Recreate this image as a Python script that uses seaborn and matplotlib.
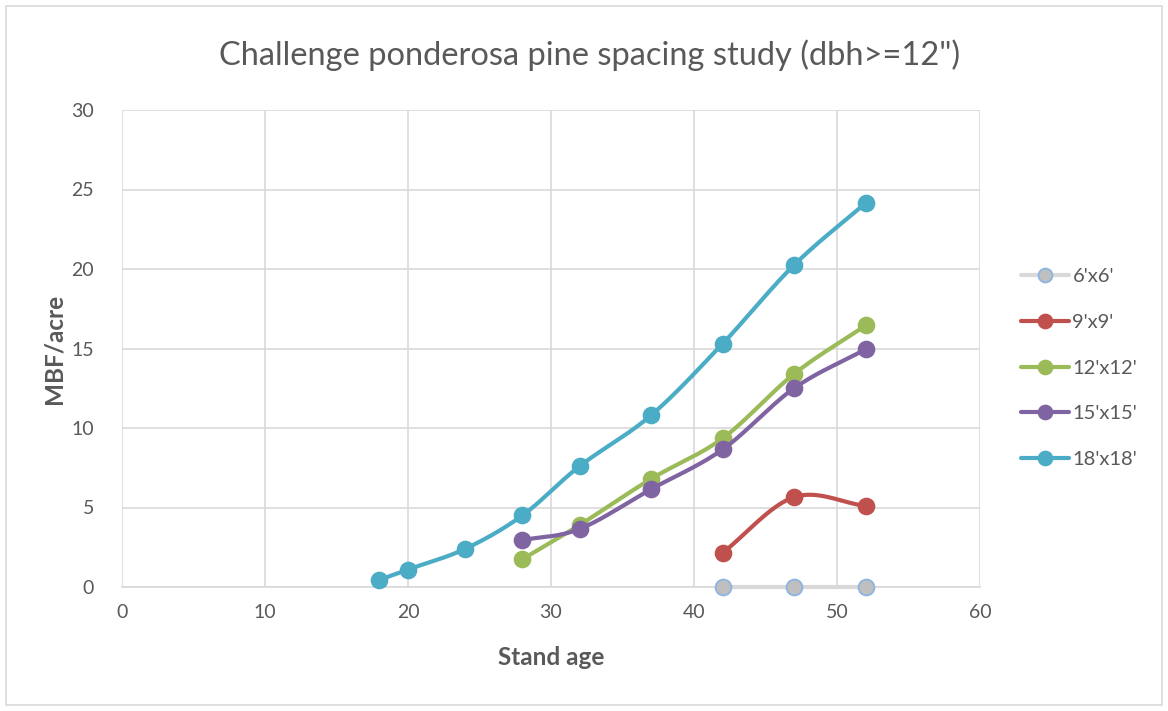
import numpy as np
import pandas as pd
import matplotlib
matplotlib.use("Agg")
import matplotlib.pyplot as plt
from matplotlib.lines import Line2D
from matplotlib.patches import Rectangle
import seaborn as sns

# Stand volume (MBF/acre, trees dbh >= 12") by spacing and stand age
spacings = ["6'x6'", "9'x9'", "12'x12'", "15'x15'", "18'x18'"]
age_6 = [42, 47, 52]
mbf_6 = [0.0, 0.0, 0.0]
age_9 = [42, 47, 52]
mbf_9 = [2.15, 5.65, 5.1]
age_12 = [28, 32, 37, 42, 47, 52]
mbf_12 = [1.75, 3.9, 6.8, 9.35, 13.4, 16.45]
age_15 = [28, 32, 37, 42, 47, 52]
mbf_15 = [2.95, 3.65, 6.15, 8.65, 12.5, 14.95]
age_18 = [18, 20, 24, 28, 32, 37, 42, 47, 52]
mbf_18 = [0.45, 1.1, 2.4, 4.5, 7.6, 10.8, 15.3, 20.25, 24.15]

x_ticks = [0, 10, 20, 30, 40, 50, 60]
y_ticks = [0, 5, 10, 15, 20, 25, 30]

line_colors = ["#d9d9d9", "#c0504d", "#9bbb59", "#8064a2", "#4bacc6"]
face_colors = ["#bfbfbf", "#c0504d", "#9bbb59", "#8064a2", "#4bacc6"]
edge_colors = ["#8db4e2", "#c0504d", "#9bbb59", "#8064a2", "#4bacc6"]

series = [(age_6, mbf_6), (age_9, mbf_9), (age_12, mbf_12),
          (age_15, mbf_15), (age_18, mbf_18)]


def smooth(xs, ys, n=30):
    """Bezier smoothing through every point (like a smoothed line chart)."""
    p = np.column_stack([xs, ys]).astype(float)
    if len(p) < 3:
        return p[:, 0], p[:, 1]
    ext = np.vstack([p[0] - (p[1] - p[0]), p, p[-1] + (p[-1] - p[-2])])
    out = []
    for i in range(1, len(ext) - 2):
        p0, p1, p2, p3 = ext[i - 1], ext[i], ext[i + 1], ext[i + 2]
        c1 = p1 + (p2 - p0) / 6.0
        c2 = p2 - (p3 - p1) / 6.0
        t = np.linspace(0, 1, n)[:, None]
        seg = ((1 - t) ** 3) * p1 + 3 * ((1 - t) ** 2) * t * c1 + 3 * (1 - t) * t ** 2 * c2 + t ** 3 * p2
        out.append(seg if i == 1 else seg[1:])
    out = np.vstack(out)
    return out[:, 0], out[:, 1]


sns.set_theme(style="white")
plt.rcParams["font.family"] = ["Lato", "DejaVu Sans"]

fig = plt.figure(figsize=(11.68, 7.11), dpi=100)
ax = fig.add_axes([122 / 1168, 1 - 587 / 711, (980 - 122) / 1168, (587 - 110) / 711])

# chart frame
fig.patches.append(Rectangle((6 / 1168, 6 / 711), 1156 / 1168, 699 / 711,
                             transform=fig.transFigure, fill=False,
                             edgecolor="#d9d9d9", linewidth=1.2))

for i, (name, (xs, ys)) in enumerate(zip(spacings, series)):
    sx, sy = smooth(xs, ys)
    curve = pd.DataFrame({"age": sx, "mbf": sy})
    sns.lineplot(data=curve, x="age", y="mbf", sort=False, estimator=None,
                 color=line_colors[i], linewidth=3.0, ax=ax, zorder=3 + i,
                 solid_capstyle="round", clip_on=False)
    pts = pd.DataFrame({"age": xs, "mbf": ys})
    sns.scatterplot(data=pts, x="age", y="mbf", color=face_colors[i], s=130,
                    edgecolor=edge_colors[i], linewidth=1.3, ax=ax, zorder=3.5 + i,
                    clip_on=False)

ax.set_xlim(0, 60)
ax.set_ylim(0, 30)
ax.set_xticks(x_ticks)
ax.set_yticks(y_ticks)
ax.grid(True, color="#d9d9d9", linewidth=1.2)
ax.set_axisbelow(True)
for s in ["top", "right", "left"]:
    ax.spines[s].set_visible(False)
ax.spines["bottom"].set_color("#d9d9d9")
ax.spines["bottom"].set_linewidth(1.2)
ax.tick_params(axis="both", length=0, labelsize=14, labelcolor="#595959", pad=12)
ax.tick_params(axis="y", pad=20)

ax.set_xlabel("Stand age", fontsize=17.5, fontweight="bold", color="#595959", labelpad=18)
ax.set_ylabel("MBF/acre", fontsize=17.5, fontweight="bold", color="#595959", labelpad=4)

fig.text(590 / 1168, 1 - 55 / 711, "Challenge ponderosa pine spacing study (dbh>=12\")",
         ha="center", va="center", fontsize=23.5, color="#595959", fontweight="normal")

handles = [Line2D([0], [0], color=line_colors[i], linewidth=3.0, marker="o",
                  markersize=10, markerfacecolor=face_colors[i],
                  markeredgecolor=edge_colors[i], markeredgewidth=1.3)
           for i in range(len(spacings))]
fig.legend(handles, spacings, loc="upper left",
           bbox_to_anchor=(1003 / 1168, 1 - 250 / 711), frameon=False,
           fontsize=14.5, labelcolor="#595959", handlelength=2.4, handletextpad=0.15,
           labelspacing=1.42)

fig.savefig("out.png", dpi=100)
